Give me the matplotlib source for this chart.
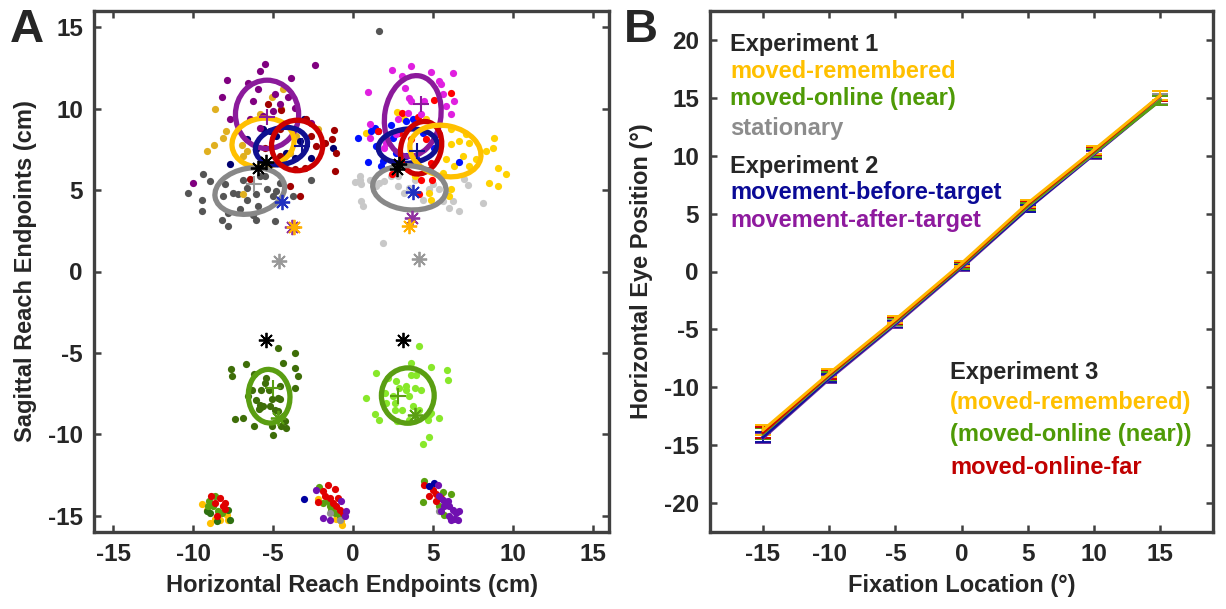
import numpy as np
import matplotlib.pyplot as plt
from matplotlib.patches import Ellipse

plt.rcParams['font.family'] = ['Liberation Sans', 'DejaVu Sans']
plt.rcParams['font.weight'] = 'bold'
plt.rcParams['axes.unicode_minus'] = False

# ---------------- panel A data (cm) ----------------
# left target, upper group
purple_L = [(-5.52, 12.72), (-5.79, 12.31), (-2.40, 12.68), (-7.91, 11.76), (-6.56, 11.6), (-3.90, 11.86),
            (-8.18, 10.71), (-5.93, 11.23), (-4.89, 10.88), (-4.06, 10.74), (-6.25, 10.47), (-4.58, 10.26),
            (-7.70, 9.38), (-6.45, 9.34), (-5.83, 8.83), (-5.0, 9.85), (-9.99, 5.45), (-2.61, 9.1),
            (-3.65, 10.06), (-5.62, 9.55)]
gold_L = [(-8.64, 9.96), (-9.16, 7.4), (-8.68, 7.74), (-8.12, 8.21), (-7.97, 8.62), (-6.97, 7.8), (-6.87, 7.09),
          (-5.1, 10.74), (-4.38, 11.19), (-5.83, 9.65), (-4.48, 9.96), (-2.19, 8.77), (-6.91, 4.73), (-6.66, 7.4),
          (-3.54, 8.32), (-6.04, 7.5), (-3.96, 7.29)]
navy_L = [(-7.7, 6.58), (-5.21, 8.62), (-4.79, 8.32), (-4.17, 7.29), (-3.34, 8.01), (-3.09, 9.38), (-3.65, 6.98),
          (-2.61, 6.98), (-1.26, 7.6), (-6.04, 7.5), (-6.66, 8.11), (-5.62, 8.73)]
red_L = [(-5.31, 10.26), (-4.48, 9.92), (-3.59, 10.06), (-2.92, 9.34), (-2.61, 8.32), (-2.3, 7.7), (-1.78, 7.91),
         (-1.22, 8.69), (-1.3, 8.11), (-1.09, 7.29), (-1.15, 6.17), (-3.34, 4.63), (-3.96, 5.24), (-3.65, 6.31),
         (-6.45, 5.7), (-4.58, 7.09), (-5.52, 7.6), (-3.02, 6.37), (-4.58, 8.73)]
gray_L = [(-9.41, 5.96), (-10.3, 4.83), (-8.95, 5.55), (-9.47, 4.42), (-9.47, 3.71), (-8.01, 5.35), (-7.49, 4.83),
          (-7.18, 4.73), (-8.12, 4.63), (-6.87, 5.65), (-6.66, 5.14), (-5.83, 5.86), (-5.41, 5.04), (-4.79, 4.94),
          (-5.0, 4.63), (-4.58, 5.45), (-2.61, 5.65), (-6.04, 4.73), (-6.66, 4.42), (-5.93, 4.01), (-7.81, 3.6),
          (-8.22, 3.19), (-7.81, 2.78), (-6.25, 3.5), (-6.04, 3.19), (-4.89, 3.09), (-5.52, 5.86), (-7.08, 3.81),
          (-3.75, 4.63), (1.61, 14.77)]

# right target, upper group
purple_R = [(2.44, 12.38), (3.63, 12.62), (4.88, 12.27), (6.27, 12.21), (3.07, 12.01), (5.39, 11.7), (0.93, 11.02),
            (3.27, 11.29), (5.5, 11.49), (5.6, 10.88), (3.52, 10.67), (3.59, 10.47), (4.46, 10.47), (6.33, 10.47),
            (5.81, 10.16), (6.12, 9.65), (4.25, 9.65), (3.42, 9.75), (2.8, 9.34), (1.07, 9.04), (1.03, 8.22),
            (2.07, 7.91), (1.96, 7.6), (2.69, 8.42)]
blue_R = [(0.30, 8.22), (1.13, 8.63), (1.34, 8.83), (1.55, 8.63), (2.38, 8.97), (3.32, 9.24), (3.73, 9.34),
          (0.93, 6.72), (1.76, 6.51), (1.86, 6.78), (3.32, 7.09), (3.94, 6.99), (4.36, 8.52), (5.08, 7.6),
          (6.64, 6.72), (2.48, 8.22), (1.44, 7.7), (2.69, 7.29)]
red_R = [(6.12, 10.94), (5.08, 10.53), (3.05, 9.71), (4.04, 9.51), (1.55, 8.63), (2.44, 5.96), (4.25, 5.65),
         (4.94, 5.65), (4.15, 4.73), (2.9, 8.52), (4.56, 8.11), (5.39, 8.42), (3.63, 8.11), (4.88, 6.68)]
yellow_R = [(0.82, 8.52), (2.73, 9.79), (3.21, 9.34), (4.56, 9.34), (6.12, 8.73), (7.06, 8.42), (6.64, 8.01),
            (6.12, 7.81), (5.81, 6.88), (6.33, 6.47), (6.85, 7.09), (7.27, 6.47), (7.68, 6.88), (8.31, 7.4),
            (8.83, 8.22), (8.72, 7.6), (9.03, 6.37), (9.55, 5.96), (8.47, 5.45), (9.03, 5.24), (6.12, 5.04),
            (6.02, 4.63), (4.77, 4.83), (4.88, 4.42), (5.6, 6.06), (5.39, 7.5), (3.84, 5.86), (7.27, 7.91)]
lgray_R = [(0.09, 5.49), (0.41, 5.65), (0.51, 5.35), (1.03, 5.65), (1.44, 5.24), (1.65, 5.45), (1.96, 5.55),
           (2.38, 5.86), (2.8, 5.24), (3.21, 4.83), (3.84, 5.65), (4.77, 5.04), (4.98, 5.35), (5.39, 5.04),
           (5.81, 4.83), (5.6, 4.32), (6.23, 4.32), (6.02, 3.91), (6.64, 3.71), (6.95, 5.7), (7.16, 5.29),
           (8.1, 4.18), (0.51, 4.32), (0.61, 4.01), (1.86, 1.72), (2.8, 5.86), (3.52, 5.14), (4.36, 4.42),
           (0.41, 5.86)]

# middle group (near targets)
dgreen_L = [(-4.69, -4.69), (-3.65, -5.0), (-6.7, -5.68), (-7.64, -5.98), (-7.56, -6.43), (-4.38, -5.61),
            (-3.65, -5.92), (-3.44, -6.43), (-3.65, -7.15), (-6.2, -6.27), (-5.46, -6.54), (-5.52, -6.84),
            (-5.73, -7.25), (-5.25, -7.25), (-4.58, -7.05), (-6.08, -7.87), (-5.83, -8.18), (-5.87, -8.44),
            (-5.73, -8.32), (-5.1, -7.83), (-4.69, -7.77), (-4.54, -7.83), (-5.62, -8.24), (-4.9, -8.48),
            (-4.69, -8.59), (-6.35, -7.25), (-7.39, -9.04), (-6.87, -9.0), (-6.2, -9.51), (-5.1, -9.47),
            (-4.52, -9.47), (-4.21, -9.61), (-4.27, -9.16), (-5.0, -10.02), (-5.21, -8.28), (-6.56, -7.62)]
lgreen_R = [(4.15, -4.59), (3.63, -5.65), (4.88, -5.88), (5.85, -6.02), (5.92, -6.68), (1.45, -6.23),
            (2.17, -6.54), (2.69, -6.74), (3.63, -6.33), (3.94, -6.33), (4.25, -7.25), (3.84, -7.15),
            (3.32, -7.05), (3.28, -7.25), (3.48, -7.66), (2.9, -7.15), (2.48, -7.66), (1.97, -7.46),
            (0.78, -7.77), (2.65, -8.07), (2.59, -8.52), (3.07, -8.52), (3.73, -8.24), (4.15, -8.48),
            (4.77, -8.79), (5.4, -9.0), (4.67, -9.14), (1.4, -8.75), (1.65, -9.14), (2.74, -9.2),
            (3.52, -9.1), (4.73, -10.16), (4.4, -10.59), (4.88, -8.69), (2.07, -8.07)]

# bottom group (far targets)
far_orange = [(-9.47, -14.28), (-8.95, -15.45), (-8.64, -15.2), (-7.91, -14.94), (-8.33, -15.24), (-7.81, -15.24),
              (-9.16, -14.63), (-0.68, -15.55), (-0.74, -15.35), (-1.05, -15.2), (-2.2, -13.97)]
far_green = [(-9.01, -14.12), (-8.64, -13.77), (-8.74, -14.42), (-8.43, -14.73), (-8.22, -14.83), (-9.06, -14.38),
             (-2.13, -13.24), (-1.88, -14.22), (-1.57, -14.12), (-1.36, -14.63), (-1.16, -14.83), (-0.84, -15.04),
             (-1.47, -14.42), (4.46, -12.89), (4.35, -14.18), (6.12, -13.65), (5.6, -13.56), (5.39, -14.42),
             (5.71, -14.94)]
far_dgreen = [(-9.16, -14.73), (-8.95, -14.83), (-7.7, -15.24), (-8.53, -15.35), (-7.81, -14.63)]
far_red = [(-8.91, -13.77), (-8.64, -14.22), (-8.33, -13.91), (-8.12, -14.38), (-8.02, -14.59), (-8.53, -15.04),
           (-8.02, -14.22), (-1.57, -13.09), (-1.16, -13.34), (-2.2, -14.18), (-1.78, -13.81), (-1.47, -13.91),
           (-1.26, -14.22), (-1.05, -14.42), (-0.84, -14.63), (-0.95, -13.91), (-0.64, -14.83), (-1.88, -13.5),
           (4.46, -13.09), (4.73, -13.77), (4.98, -13.4), (5.19, -13.65), (5.19, -14.12), (5.5, -13.91)]
far_blue = [(-3.09, -13.97), (4.73, -13.15), (5.08, -12.99)]
far_purple = [(-2.3, -13.44), (-1.88, -15.14), (-0.74, -14.12), (-0.43, -14.73), (-0.53, -15.04), (-1.47, -15.24),
              (5.29, -13.09), (5.39, -13.81), (5.6, -14.01), (5.81, -14.22), (6.02, -14.42), (6.23, -14.63),
              (6.43, -14.83), (6.64, -14.73), (6.33, -15.2), (6.02, -15.04), (5.5, -14.73), (5.91, -14.12),
              (6.12, -15.24), (6.54, -15.24), (5.71, -14.42)]
far_gray = [(-1.47, -14.83), (-0.84, -15.24), (5.39, -14.73)]

# confidence ellipses: centre x, centre y, width, height, angle, colour
ell_x = [-5.38, -5.63, -4.48, -3.5, -6.46, 3.73, 3.42, 4.25, 5.77, 3.52, -5.25, 3.42]
ell_y = [9.65, 7.91, 7.7, 7.74, 4.94, 9.55, 7.7, 7.6, 7.4, 5.14, -7.66, -7.62]
ell_w = [3.95, 3.9, 3.3, 3.2, 4.4, 3.5, 3.7, 2.5, 4.5, 4.6, 2.6, 3.3]
ell_h = [4.2, 3.0, 2.25, 3.1, 2.8, 5.0, 2.1, 3.3, 3.1, 2.7, 3.3, 3.4]
ell_a = [0, 8, 12, 0, 10, -10, 5, -18, -12, -5, 5, 0]
ell_c = ['#8B1A9B', '#FFC000', '#101090', '#CC0000', '#888888', '#8B1A9B', '#101090', '#CC0000', '#FFC000',
         '#888888', '#5A9E12', '#5A9E12']

# means (+) and target positions (asterisk)
plus_pts = [(-5.4, 9.5, '#8B1A9B'), (-6.2, 5.4, '#999999'), (-3.2, 7.7, '#101090'), (4.25, 10.26, '#8B1A9B'),
            (4.0, 7.4, '#101090'), (-5.0, -7.15, '#5A9E12'), (2.8, -7.66, '#5A9E12')]
star_x = [-5.94, -5.46, -4.44, -3.79, -3.7, -4.63, 2.86, 2.73, 3.77, 3.69, 3.48, 4.15, -5.46, 3.1, -4.69, 3.84]
star_y = [6.37, 6.72, 4.26, 2.75, 2.75, 0.63, 6.58, 6.27, 4.87, 3.3, 2.79, 0.78, -4.18, -4.18, -9.0, -8.79]
star_c = ['k', 'k', '#2030C0', '#9030A0', '#FFB000', '#999999', 'k', 'k', '#2030C0', '#9030A0', '#FFB000',
          '#999999', 'k', 'k', '#5A9E12', '#5A9E12']

# ---------------- panel B data (deg) ----------------
fix_loc = [-15, -10, -5, 0, 5, 10, 15]
eye_after = [-14.4, -9.3, -4.6, 0.3, 5.4, 10.1, 14.8]
eye_before = [-14.3, -9.2, -4.5, 0.4, 5.45, 10.15, 14.85]
eye_stat = [-14.0, -9.05, -4.4, 0.5, 5.6, 10.2, 14.9]
eye_near = [-14.0, -9.0, -4.35, 0.5, 5.65, 10.25, 14.75]
eye_far = [-13.9, -8.9, -4.25, 0.6, 5.8, 10.4, 15.15]
eye_rem = [-13.7, -8.8, -4.15, 0.7, 5.9, 10.5, 15.2]
eye_err = [0.45, 0.35, 0.3, 0.25, 0.3, 0.35, 0.4]

SPINE = '#404040'
TXT = '#262626'


def style_axes(ax):
    for s in ax.spines.values():
        s.set_color(SPINE)
        s.set_linewidth(2.4)
    ax.tick_params(direction='in', length=5, width=1.8, color=SPINE, labelsize=17.5,
                   labelcolor=TXT, top=True, right=True, pad=8)
    for lab in ax.get_xticklabels() + ax.get_yticklabels():
        lab.set_fontweight('bold')


fig = plt.figure(figsize=(12.26, 6.09), dpi=100)
axA = fig.add_axes([94 / 1226, 77 / 609, 515 / 1226, 521 / 609])
axB = fig.add_axes([710 / 1226, 77 / 609, 503 / 1226, 521 / 609])


def dots(ax, pts, col, ms=5.2):
    p = np.array(pts)
    ax.plot(p[:, 0], p[:, 1], 'o', color=col, ms=ms, mec='none', zorder=2)


dots(axA, gray_L, '#555555')
dots(axA, lgray_R, '#C8C8C8')
dots(axA, gold_L, '#E0B020')
dots(axA, yellow_R, '#FFD200')
dots(axA, navy_L, '#000070')
dots(axA, blue_R, '#0010FF')
dots(axA, red_L, '#A00000')
dots(axA, red_R, '#FF0000')
dots(axA, purple_L, '#800080')
dots(axA, purple_R, '#E020E0')
dots(axA, dgreen_L, '#3E6E08')
dots(axA, lgreen_R, '#88E82A')
dots(axA, far_orange, '#FFC000')
dots(axA, far_dgreen, '#2E7010')
dots(axA, far_green, '#5AA010')
dots(axA, far_gray, '#909090')
dots(axA, far_red, '#E00000')
dots(axA, far_blue, '#0000A0')
dots(axA, far_purple, '#7010B0')

for i in range(len(ell_x)):
    axA.add_patch(Ellipse((ell_x[i], ell_y[i]), ell_w[i], ell_h[i], angle=ell_a[i], fill=False,
                          ec=ell_c[i], lw=3.8, zorder=3))

for px, py, pc in plus_pts:
    axA.plot(px, py, '+', color=pc, ms=12, mew=1.5, zorder=4)

for sx, sy, sc in zip(star_x, star_y, star_c):
    axA.plot(sx, sy, marker=(8, 2, 0), color=sc, ms=11, mew=1.3, ls='none', zorder=5)

axA.set_xlim(-16.2, 16)
axA.set_ylim(-16, 16)
axA.set_xticks([-15, -10, -5, 0, 5, 10, 15])
axA.set_yticks([-15, -10, -5, 0, 5, 10, 15])
style_axes(axA)
axA.set_xlabel('Horizontal Reach Endpoints (cm)', fontsize=17, fontweight='bold', color=TXT, labelpad=6)
axA.set_ylabel('Sagittal Reach Endpoints (cm)', fontsize=17, fontweight='bold', color=TXT, labelpad=8)

# panel B lines
series = [(eye_after, '#7030A0'), (eye_before, '#1010A0'), (eye_stat, '#909090'),
          (eye_near, '#58A010'), (eye_far, '#CC0000'), (eye_rem, '#FFB800')]
for vals, col in series:
    axB.errorbar(fix_loc, vals, yerr=eye_err, color=col, lw=2.2, elinewidth=1.4, capsize=6, capthick=1.4)

axB.set_xlim(-19, 19)
axB.set_ylim(-22.5, 22.5)
axB.set_xticks([-15, -10, -5, 0, 5, 10, 15])
axB.set_yticks([-20, -15, -10, -5, 0, 5, 10, 15, 20])
style_axes(axB)
axB.set_xlabel('Fixation Location (°)', fontsize=17, fontweight='bold', color=TXT, labelpad=6)
axB.set_ylabel('Horizontal Eye Position (°)', fontsize=17, fontweight='bold', color=TXT, labelpad=8)

# legend text blocks
leg1 = [('Experiment 1', TXT, 45), ('moved-remembered', '#FFC000', 72), ('moved-online (near)', '#4E9A06', 98),
        ('stationary', '#8C8C8C', 128), ('Experiment 2', TXT, 167), ('movement-before-target', '#0A0A96', 192),
        ('movement-after-target', '#8E1A9E', 220)]
for s, c, y in leg1:
    fig.text(730 / 1226, 1 - y / 609, s, color=c, fontsize=17, fontweight='bold', va='center', ha='left')
leg3 = [('Experiment 3', TXT, 372), ('(moved-remembered)', '#FFC000', 403), ('(moved-online (near))', '#4E9A06', 435),
        ('moved-online-far', '#C00000', 468)]
for s, c, y in leg3:
    fig.text(950 / 1226, 1 - y / 609, s, color=c, fontsize=17, fontweight='bold', va='center', ha='left')

fig.text(10 / 1226, 1 - 30 / 609, 'A', fontsize=34, fontweight='bold', color=TXT, va='center', ha='left')
fig.text(624 / 1226, 1 - 30 / 609, 'B', fontsize=34, fontweight='bold', color=TXT, va='center', ha='left')

fig.savefig('out.png', dpi=100)
